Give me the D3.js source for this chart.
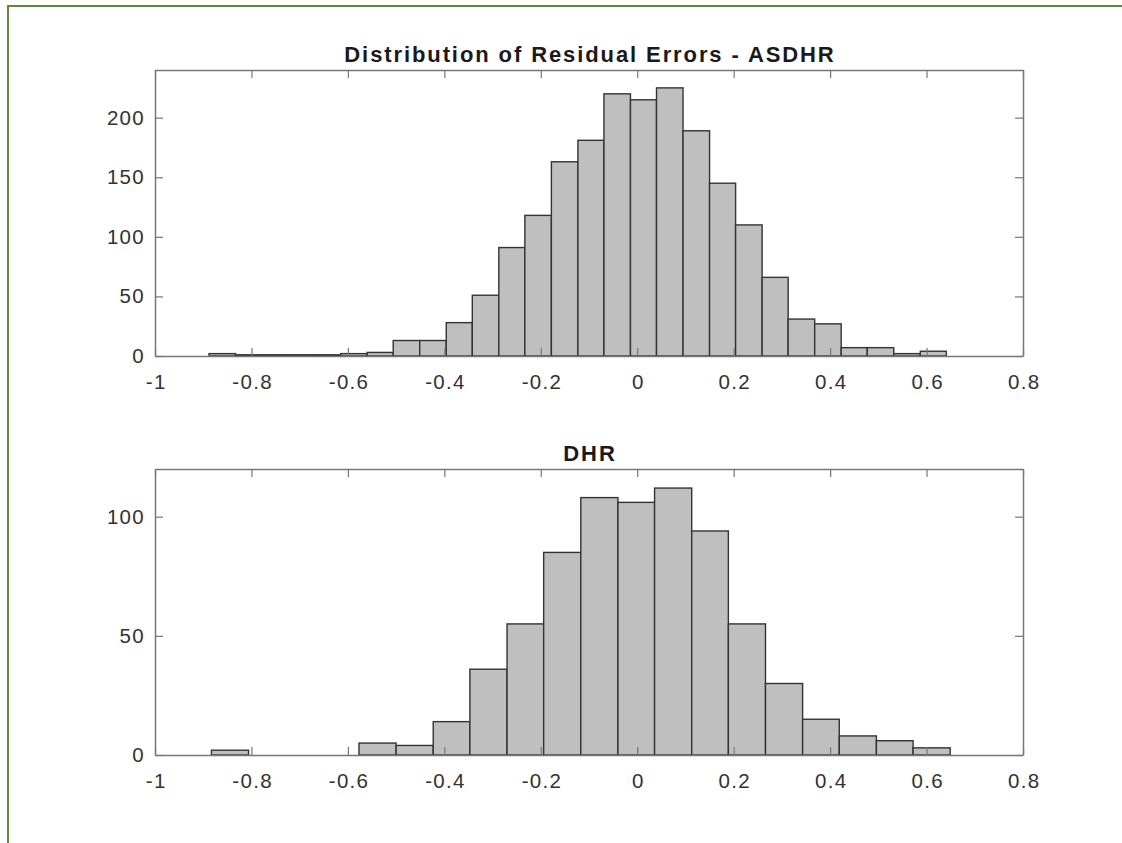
<!DOCTYPE html>
<html>
<head>
<meta charset="utf-8">
<script src="https://cdn.jsdelivr.net/npm/d3@7"></script>
<style>
  html, body { margin: 0; padding: 0; background: #fff; }
  svg { display: block; }
  text { font-family: "Liberation Sans", Arial, Helvetica, sans-serif; }
</style>
</head>
<body>
<div id="chart"></div>
<script>
// x ticks shared by both panels
const xTicks = [-1, -0.8, -0.6, -0.4, -0.2, 0, 0.2, 0.4, 0.6, 0.8];

// ASDHR histogram
const asdhrEdges = [-0.888, -0.833, -0.779, -0.724, -0.670, -0.615, -0.560, -0.506, -0.451, -0.396,
  -0.342, -0.287, -0.233, -0.178, -0.123, -0.069, -0.014, 0.040, 0.095, 0.150,
  0.204, 0.259, 0.313, 0.368, 0.423, 0.477, 0.532, 0.587, 0.641];
const asdhrCounts = [2, 1, 1, 1, 1, 2, 3, 13, 13, 28, 51, 91, 118, 163, 181, 220, 215, 225, 189, 145,
  110, 66, 31, 27, 7, 7, 2, 4];
const asdhrYTicks = [0, 50, 100, 150, 200];

// DHR histogram
const dhrEdges = [-0.883, -0.806, -0.730, -0.653, -0.577, -0.500, -0.423, -0.347, -0.270, -0.194,
  -0.117, -0.040, 0.036, 0.113, 0.189, 0.266, 0.343, 0.419, 0.496, 0.572, 0.649];
const dhrCounts = [2, 0, 0, 0, 5, 4, 14, 36, 55, 85, 108, 106, 112, 94, 55, 30, 15, 8, 6, 3];
const dhrYTicks = [0, 50, 100];

const W = 1122, H = 843;
const svg = d3.select("#chart").append("svg")
  .attr("width", W).attr("height", H);

// green frame (top and left edges)
svg.append("path")
  .attr("d", `M8,${H} L8,6 L${W},6`)
  .attr("fill", "none")
  .attr("stroke", "#5b8a3a")
  .attr("stroke-width", 2);

const fmt = v => String(v).replace("\u2212", "-");
const LS = 1.3; // tick label letter spacing

function panel(cfg) {
  const { left, right, top, bottom, edges, counts, yMax, yTicks, title } = cfg;
  const x = d3.scaleLinear().domain([-1, 0.8]).range([left, right]);
  const y = d3.scaleLinear().domain([0, yMax]).range([bottom, top]);
  const g = svg.append("g");

  const bins = counts.map((c, i) => ({ x0: edges[i], x1: edges[i + 1], c }))
    .filter(d => d.c > 0);

  g.selectAll("rect.bar").data(bins).enter().append("rect")
    .attr("class", "bar")
    .attr("x", d => x(d.x0))
    .attr("y", d => y(d.c))
    .attr("width", d => x(d.x1) - x(d.x0))
    .attr("height", d => y(0) - y(d.c))
    .attr("fill", "#bfbfbf")
    .attr("stroke", "#333")
    .attr("stroke-width", 1.4);

  const tickLen = 8;
  const axisColor = "#777";

  // bottom and top axes, ticks pointing inward
  const xb = g.append("g").attr("transform", `translate(0,${bottom})`)
    .call(d3.axisBottom(x).tickValues(xTicks).tickSizeInner(-tickLen).tickSizeOuter(0).tickPadding(18).tickFormat(fmt));
  const xt = g.append("g").attr("transform", `translate(0,${top})`)
    .call(d3.axisTop(x).tickValues(xTicks).tickSizeInner(-tickLen).tickSizeOuter(0).tickFormat(""));
  const yl = g.append("g").attr("transform", `translate(${left},0)`)
    .call(d3.axisLeft(y).tickValues(yTicks).tickSizeInner(-tickLen).tickSizeOuter(0).tickPadding(10).tickFormat(fmt));
  const yr = g.append("g").attr("transform", `translate(${right},0)`)
    .call(d3.axisRight(y).tickValues(yTicks).tickSizeInner(-tickLen).tickSizeOuter(0).tickFormat(""));

  [xb, xt, yl, yr].forEach(a => {
    a.select(".domain").attr("stroke", axisColor).attr("stroke-width", 1.5);
    a.selectAll(".tick line").attr("stroke", axisColor).attr("stroke-width", 1.2);
    a.selectAll(".tick text")
      .attr("fill", "#333")
      .style("font-size", "20.5px")
      .style("letter-spacing", LS + "px");
  });
  // compensate trailing letter spacing on centred x labels
  xb.selectAll(".tick text").attr("dx", LS / 2);

  g.append("text")
    .attr("x", (left + right) / 2 + 1)
    .attr("y", top - 8)
    .attr("text-anchor", "middle")
    .attr("fill", "#1a1a1a")
    .style("font-size", "22px")
    .style("font-weight", "bold")
    .style("letter-spacing", "1.9px")
    .text(title);
}

panel({ left: 155, right: 1023, top: 70, bottom: 356, edges: asdhrEdges, counts: asdhrCounts,
  yMax: 240, yTicks: asdhrYTicks, title: "Distribution of Residual Errors - ASDHR" });
panel({ left: 155, right: 1023, top: 469, bottom: 755, edges: dhrEdges, counts: dhrCounts,
  yMax: 120, yTicks: dhrYTicks, title: "DHR" });
</script>
</body>
</html>
